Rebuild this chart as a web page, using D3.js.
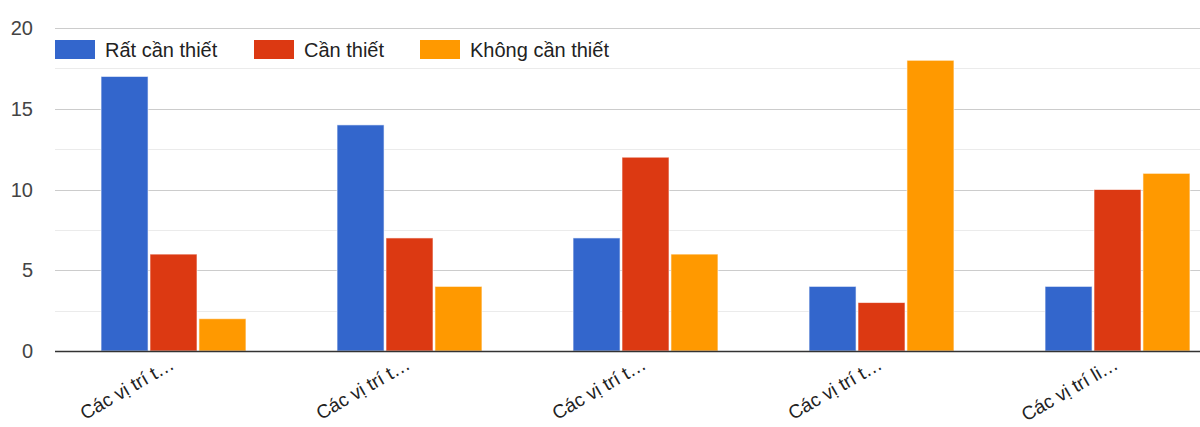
<!DOCTYPE html>
<html>
<head>
<meta charset="utf-8">
<script src="https://cdn.jsdelivr.net/npm/d3@7"></script>
<style>
  html, body { margin: 0; padding: 0; background: #fff; }
  svg { display: block; font-family: "Liberation Sans", Arial, sans-serif; }
</style>
</head>
<body>
<svg id="chart" width="1200" height="427"></svg>
<script>
// Survey answers per location group
const categories = ["Các vị trí t…", "Các vị trí t…", "Các vị trí t…", "Các vị trí t…", "Các vị trí li…"];
const seriesNames = ["Rất cần thiết", "Cần thiết", "Không cần thiết"];
const seriesColors = ["#3366cc", "#dc3912", "#ff9900"];
const veryNeeded = [17, 14, 7, 4, 4];
const needed = [6, 7, 12, 3, 10];
const notNeeded = [2, 4, 6, 18, 11];
const yTicks = [0, 5, 10, 15, 20];
const yMinorTicks = [2.5, 7.5, 12.5, 17.5];

const series = [veryNeeded, needed, notNeeded];

const svg = d3.select("#chart");
const plotLeft = 55.5, plotRight = 1235.5, plotTop = 28, plotBottom = 351;

const x0 = d3.scaleBand()
  .domain(d3.range(categories.length))
  .range([plotLeft, plotRight])
  .paddingInner(0.386)
  .paddingOuter(0.193);

const x1 = d3.scaleBand()
  .domain(d3.range(seriesNames.length))
  .range([0, x0.bandwidth()])
  .paddingInner(0.04);

const y = d3.scaleLinear().domain([0, 20]).range([plotBottom, plotTop]);

// Gridlines
svg.append("g").selectAll("line")
  .data(yMinorTicks).join("line")
  .attr("x1", 55).attr("x2", 1200)
  .attr("y1", d => Math.round(y(d)) + 0.5).attr("y2", d => Math.round(y(d)) + 0.5)
  .attr("stroke", "#ebebeb").attr("stroke-width", 1);

svg.append("g").selectAll("line")
  .data(yTicks.filter(d => d !== 0)).join("line")
  .attr("x1", 55).attr("x2", 1200)
  .attr("y1", d => Math.round(y(d)) + 0.5).attr("y2", d => Math.round(y(d)) + 0.5)
  .attr("stroke", "#cccccc").attr("stroke-width", 1.2);

// Y tick labels
svg.append("g").selectAll("text")
  .data(yTicks).join("text")
  .attr("x", 33).attr("y", d => y(d))
  .attr("dy", "0.36em")
  .attr("text-anchor", "end")
  .attr("font-size", 20)
  .attr("fill", "#444")
  .text(d => d);

// Bars
const groups = svg.append("g").selectAll("g")
  .data(categories.map((c, i) => i)).join("g")
  .attr("transform", i => `translate(${x0(i)},0)`);

groups.selectAll("rect")
  .data(i => series.map((s, k) => ({ k, v: s[i] }))).join("rect")
  .attr("x", d => x1(d.k))
  .attr("width", x1.bandwidth())
  .attr("y", d => y(d.v))
  .attr("height", d => y(0) - y(d.v))
  .attr("fill", d => seriesColors[d.k])
  .attr("stroke", "#ffffff")
  .attr("stroke-opacity", 0.6)
  .attr("stroke-width", 1);

// Baseline
svg.append("line")
  .attr("x1", 55).attr("x2", 1200)
  .attr("y1", y(0) + 0.5).attr("y2", y(0) + 0.5)
  .attr("stroke", "#333").attr("stroke-width", 1.6);

// Category labels, rotated
svg.append("g").selectAll("text")
  .data(categories).join("text")
  .attr("transform", (d, i) => `translate(${x0(i) + x0.bandwidth() / 2 + 2},368) rotate(-30)`)
  .attr("text-anchor", "end")
  .attr("font-size", 19)
  .attr("fill", "#222")
  .text(d => d);

// Legend
const legendX = [55, 254, 420];
const legend = svg.append("g").selectAll("g")
  .data(seriesNames).join("g")
  .attr("transform", (d, i) => `translate(${legendX[i]},40)`);
legend.append("rect")
  .attr("width", 40).attr("height", 19)
  .attr("fill", (d, i) => seriesColors[i]);
legend.append("text")
  .attr("x", 50).attr("y", 9.5).attr("dy", "0.36em")
  .attr("font-size", 20)
  .attr("fill", "#222")
  .text(d => d);
</script>
</body>
</html>
